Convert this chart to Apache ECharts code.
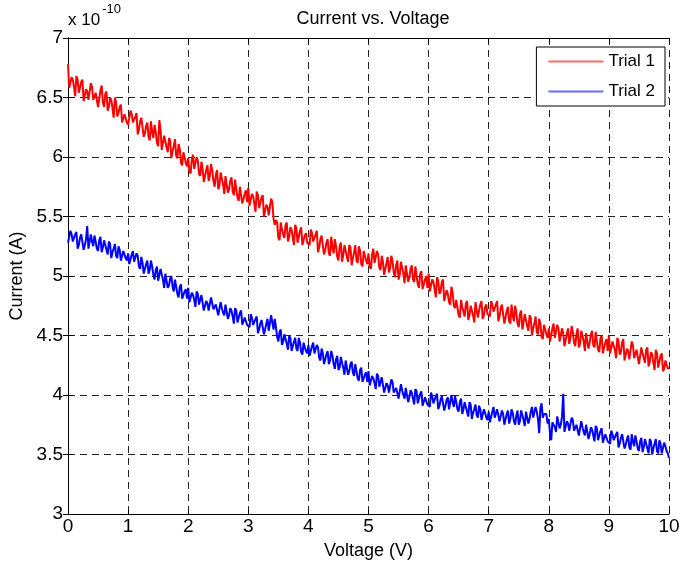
<!DOCTYPE html>
<html>
<head>
<meta charset="utf-8">
<script src="https://cdn.jsdelivr.net/npm/echarts@6/dist/echarts.min.js"></script>
<style>
  html, body { margin: 0; padding: 0; background: #fff; }
  #chart { width: 680px; height: 565px; }
</style>
</head>
<body>
<div id="chart"></div>
<script>
// voltage sampling step (V) for both trials
const VOLT_STEP = 0.02

// current x 1e-10 A, one row per volt
const trial1 = [
  6.78, 6.58, 6.58, 6.67, 6.65, 6.59, 6.51, 6.68, 6.65, 6.54, 6.55, 6.63, 6.65, 6.47, 6.48, 6.57, 6.55, 6.48, 6.47, 6.62, 6.59, 6.48, 6.47, 6.54, 6.55, 6.42, 6.41, 6.56, 6.60, 6.46, 6.42, 6.53, 6.55, 6.39, 6.42, 6.50, 6.48, 6.41, 6.33, 6.50, 6.46, 6.34, 6.37, 6.42, 6.44, 6.29, 6.29, 6.36, 6.37, 6.29,
  6.27, 6.26, 6.39, 6.36, 6.29, 6.28, 6.34, 6.37, 6.19, 6.23, 6.30, 6.33, 6.34, 6.17, 6.20, 6.26, 6.29, 6.17, 6.14, 6.30, 6.21, 6.16, 6.27, 6.21, 6.12, 6.09, 6.31, 6.23, 6.06, 6.12, 6.18, 6.18, 6.08, 6.04, 6.16, 6.14, 5.99, 6.05, 6.09, 6.15, 6.01, 5.99, 6.11, 6.07, 5.95, 5.93, 6.04, 6.00, 5.95, 5.92,
  5.99, 5.88, 5.86, 5.98, 6.02, 5.90, 5.89, 6.00, 5.97, 5.86, 5.84, 5.96, 5.90, 5.79, 5.78, 5.89, 5.93, 5.80, 5.84, 5.94, 5.89, 5.80, 5.75, 5.85, 5.89, 5.73, 5.76, 5.87, 5.82, 5.77, 5.69, 5.84, 5.83, 5.70, 5.73, 5.80, 5.83, 5.71, 5.68, 5.81, 5.73, 5.66, 5.63, 5.75, 5.76, 5.61, 5.65, 5.69, 5.72, 5.62,
  5.74, 5.59, 5.60, 5.69, 5.67, 5.61, 5.54, 5.71, 5.68, 5.57, 5.58, 5.66, 5.68, 5.50, 5.51, 5.60, 5.58, 5.51, 5.50, 5.65, 5.62, 5.48, 5.43, 5.47, 5.45, 5.32, 5.30, 5.45, 5.39, 5.35, 5.32, 5.43, 5.45, 5.29, 5.33, 5.41, 5.39, 5.32, 5.26, 5.43, 5.40, 5.28, 5.33, 5.38, 5.41, 5.26, 5.27, 5.34, 5.36, 5.28,
  5.27, 5.26, 5.39, 5.36, 5.29, 5.28, 5.35, 5.38, 5.20, 5.24, 5.31, 5.34, 5.35, 5.18, 5.22, 5.28, 5.31, 5.19, 5.17, 5.33, 5.24, 5.19, 5.31, 5.25, 5.16, 5.13, 5.25, 5.28, 5.12, 5.18, 5.26, 5.26, 5.16, 5.12, 5.26, 5.24, 5.09, 5.15, 5.20, 5.26, 5.13, 5.11, 5.25, 5.21, 5.10, 5.08, 5.21, 5.17, 5.13, 5.10,
  5.19, 5.08, 5.06, 5.18, 5.23, 5.11, 5.10, 5.21, 5.18, 5.07, 5.05, 5.17, 5.12, 5.01, 5.00, 5.11, 5.16, 5.03, 5.07, 5.17, 5.12, 5.03, 4.99, 5.09, 5.13, 4.97, 5.01, 5.12, 5.07, 5.02, 4.94, 5.09, 5.08, 4.95, 4.99, 5.06, 5.09, 4.97, 4.95, 5.08, 5.00, 4.93, 4.90, 5.02, 5.04, 4.89, 4.93, 4.97, 5.00, 4.90,
  5.02, 4.87, 4.88, 4.97, 4.95, 4.89, 4.82, 4.99, 4.96, 4.85, 4.87, 4.95, 4.97, 4.79, 4.79, 4.88, 4.85, 4.78, 4.76, 4.91, 4.86, 4.75, 4.73, 4.80, 4.80, 4.67, 4.65, 4.80, 4.74, 4.70, 4.66, 4.77, 4.79, 4.63, 4.67, 4.75, 4.74, 4.67, 4.61, 4.78, 4.77, 4.65, 4.71, 4.76, 4.79, 4.64, 4.67, 4.74, 4.76, 4.68,
  4.67, 4.66, 4.79, 4.76, 4.70, 4.69, 4.76, 4.79, 4.62, 4.66, 4.73, 4.76, 4.77, 4.60, 4.65, 4.71, 4.74, 4.62, 4.60, 4.76, 4.67, 4.62, 4.75, 4.69, 4.60, 4.57, 4.68, 4.71, 4.55, 4.61, 4.68, 4.68, 4.58, 4.54, 4.67, 4.65, 4.50, 4.56, 4.60, 4.66, 4.53, 4.51, 4.64, 4.60, 4.49, 4.47, 4.59, 4.55, 4.51, 4.48,
  4.56, 4.45, 4.44, 4.56, 4.60, 4.48, 4.48, 4.59, 4.56, 4.45, 4.44, 4.56, 4.52, 4.41, 4.40, 4.51, 4.56, 4.43, 4.48, 4.58, 4.53, 4.44, 4.41, 4.51, 4.56, 4.40, 4.43, 4.54, 4.50, 4.45, 4.37, 4.52, 4.52, 4.39, 4.44, 4.51, 4.54, 4.42, 4.40, 4.53, 4.45, 4.38, 4.36, 4.48, 4.50, 4.35, 4.40, 4.44, 4.47, 4.37,
  4.50, 4.35, 4.36, 4.45, 4.44, 4.38, 4.31, 4.48, 4.45, 4.34, 4.36, 4.44, 4.47, 4.29, 4.30, 4.39, 4.37, 4.30, 4.30, 4.45, 4.42, 4.31, 4.31, 4.38, 4.39, 4.26, 4.25, 4.40, 4.35, 4.31, 4.27, 4.38, 4.40, 4.24, 4.28, 4.36, 4.34, 4.27, 4.21, 4.38, 4.35, 4.23, 4.28, 4.33, 4.35, 4.20, 4.22, 4.29, 4.30, 4.22, 4.23
]

const trial2 = [
  5.28, 5.27, 5.38, 5.35, 5.29, 5.29, 5.35, 5.37, 5.23, 5.26, 5.32, 5.35, 5.35, 5.22, 5.26, 5.31, 5.42, 5.23, 5.22, 5.35, 5.29, 5.25, 5.34, 5.29, 5.23, 5.21, 5.30, 5.33, 5.20, 5.24, 5.30, 5.30, 5.22, 5.18, 5.29, 5.27, 5.15, 5.20, 5.23, 5.27, 5.17, 5.15, 5.25, 5.22, 5.13, 5.12, 5.21, 5.18, 5.15, 5.13,
  5.19, 5.10, 5.09, 5.18, 5.21, 5.12, 5.11, 5.19, 5.17, 5.08, 5.06, 5.16, 5.11, 5.02, 5.01, 5.10, 5.13, 5.02, 5.05, 5.13, 5.08, 5.01, 4.97, 5.05, 5.08, 4.96, 4.97, 5.06, 5.01, 4.97, 4.90, 5.02, 5.01, 4.90, 4.92, 4.98, 5.00, 4.91, 4.87, 4.97, 4.91, 4.85, 4.82, 4.91, 4.93, 4.81, 4.84, 4.87, 4.89, 4.81,
  4.90, 4.78, 4.79, 4.86, 4.84, 4.80, 4.74, 4.87, 4.85, 4.76, 4.77, 4.84, 4.85, 4.71, 4.71, 4.79, 4.77, 4.71, 4.70, 4.82, 4.81, 4.72, 4.71, 4.76, 4.77, 4.67, 4.66, 4.78, 4.73, 4.69, 4.67, 4.76, 4.77, 4.64, 4.67, 4.73, 4.71, 4.66, 4.60, 4.73, 4.71, 4.61, 4.65, 4.69, 4.71, 4.59, 4.59, 4.65, 4.65, 4.59,
  4.58, 4.57, 4.68, 4.65, 4.59, 4.59, 4.64, 4.66, 4.52, 4.55, 4.60, 4.63, 4.64, 4.51, 4.55, 4.60, 4.64, 4.54, 4.54, 4.67, 4.61, 4.55, 4.64, 4.57, 4.49, 4.45, 4.53, 4.55, 4.42, 4.45, 4.51, 4.50, 4.43, 4.38, 4.50, 4.48, 4.37, 4.41, 4.45, 4.48, 4.39, 4.37, 4.48, 4.44, 4.36, 4.34, 4.44, 4.40, 4.37, 4.35,
  4.42, 4.33, 4.32, 4.41, 4.44, 4.35, 4.34, 4.42, 4.40, 4.31, 4.29, 4.39, 4.35, 4.26, 4.25, 4.34, 4.37, 4.26, 4.29, 4.37, 4.33, 4.26, 4.22, 4.30, 4.33, 4.21, 4.23, 4.32, 4.27, 4.23, 4.17, 4.29, 4.28, 4.17, 4.20, 4.26, 4.28, 4.19, 4.16, 4.26, 4.20, 4.14, 4.12, 4.21, 4.23, 4.11, 4.14, 4.17, 4.19, 4.11,
  4.20, 4.08, 4.09, 4.16, 4.14, 4.10, 4.05, 4.18, 4.16, 4.07, 4.08, 4.15, 4.16, 4.02, 4.02, 4.10, 4.08, 4.02, 4.01, 4.13, 4.11, 4.02, 4.01, 4.06, 4.07, 3.97, 3.97, 4.09, 4.04, 4.00, 3.97, 4.06, 4.07, 3.94, 3.98, 4.04, 4.02, 3.97, 3.92, 4.05, 4.03, 3.93, 3.97, 4.01, 4.03, 3.91, 3.92, 3.98, 3.98, 3.92,
  3.91, 3.90, 4.02, 3.99, 3.93, 3.93, 3.99, 4.01, 3.88, 3.91, 3.96, 3.99, 4.00, 3.87, 3.91, 3.96, 3.98, 3.88, 3.87, 4.00, 3.94, 3.90, 3.99, 3.94, 3.88, 3.86, 3.94, 3.97, 3.84, 3.88, 3.94, 3.94, 3.86, 3.82, 3.94, 3.92, 3.80, 3.85, 3.88, 3.92, 3.83, 3.81, 3.91, 3.88, 3.79, 3.78, 3.88, 3.85, 3.81, 3.79,
  3.86, 3.77, 3.77, 3.86, 3.90, 3.81, 3.80, 3.88, 3.87, 3.78, 3.77, 3.87, 3.84, 3.75, 3.75, 3.84, 3.87, 3.76, 3.80, 3.88, 3.85, 3.78, 3.75, 3.83, 3.87, 3.75, 3.78, 3.87, 3.83, 3.79, 3.74, 3.86, 3.87, 3.76, 3.80, 3.86, 3.90, 3.81, 3.80, 3.90, 3.86, 3.80, 3.68, 3.89, 3.93, 3.81, 3.84, 3.85, 3.84, 3.76,
  3.80, 3.68, 3.62, 3.77, 3.77, 3.73, 3.69, 3.82, 3.81, 3.72, 3.75, 3.82, 4.01, 3.69, 3.70, 3.78, 3.76, 3.70, 3.69, 3.81, 3.79, 3.70, 3.70, 3.75, 3.76, 3.66, 3.66, 3.78, 3.73, 3.69, 3.66, 3.75, 3.76, 3.63, 3.67, 3.73, 3.71, 3.66, 3.61, 3.74, 3.72, 3.62, 3.66, 3.70, 3.72, 3.60, 3.61, 3.67, 3.67, 3.61,
  3.60, 3.59, 3.70, 3.67, 3.62, 3.62, 3.67, 3.69, 3.56, 3.59, 3.64, 3.67, 3.68, 3.55, 3.58, 3.63, 3.66, 3.56, 3.54, 3.67, 3.61, 3.57, 3.66, 3.61, 3.55, 3.53, 3.61, 3.64, 3.52, 3.56, 3.63, 3.63, 3.55, 3.51, 3.63, 3.61, 3.50, 3.55, 3.59, 3.63, 3.53, 3.51, 3.62, 3.59, 3.51, 3.50, 3.60, 3.57, 3.53, 3.51, 3.47
]

const seriesNames = ['Trial 1', 'Trial 2']
const seriesColors = ['#ff0000', '#0000ff']
const legendColors = ['#ff6a6a', '#6a6aff']

const font = 'Liberation Sans, Arial, sans-serif'

function toPairs(arr) {
  return arr.map((v, i) => [+(i * VOLT_STEP).toFixed(2), v])
}

const chart = echarts.init(document.getElementById('chart'))

const axisBase = {
  axisLine: { show: true, lineStyle: { color: '#000', width: 1 } },
  axisTick: { show: true, inside: true, length: 5, lineStyle: { color: '#000' } }
}

const option = {
  animation: false,
  backgroundColor: '#fff',
  title: {
    text: 'Current vs. Voltage',
    left: 368,
    top: 5,
    textAlign: 'center',
    textStyle: { fontFamily: font, fontSize: 18, fontWeight: 'normal', color: '#000' }
  },
  legend: {
    data: seriesNames.map((n, i) => ({ name: n, icon: 'rect', itemStyle: { color: legendColors[i] } })),
    orient: 'vertical',
    right: 15,
    top: 47,
    itemWidth: 55,
    itemHeight: 2,
    itemGap: 13,
    padding: [6, 10, 6, 12],
    borderColor: '#000',
    borderWidth: 1,
    backgroundColor: '#fff',
    textStyle: { fontFamily: font, fontSize: 17, color: '#000' }
  },
  grid: { left: 68, right: 11, top: 38, bottom: 51, outerBoundsMode: 'none' },
  xAxis: [
    {
      ...axisBase,
      type: 'value',
      min: 0,
      max: 10,
      interval: 1,
      name: 'Voltage (V)',
      nameLocation: 'middle',
      nameGap: 28,
      nameTextStyle: { fontFamily: font, fontSize: 18, color: '#000' },
      axisLabel: { fontFamily: font, fontSize: 19, color: '#000', margin: 3 },
      splitLine: { show: true, lineStyle: { color: '#222', width: 1, type: [7, 5] } }
    },
    {
      ...axisBase,
      type: 'value',
      position: 'top',
      min: 0,
      max: 10,
      interval: 1,
      axisLabel: { show: false },
      splitLine: { show: false }
    }
  ],
  yAxis: [
    {
      ...axisBase,
      type: 'value',
      min: 3,
      max: 7,
      interval: 0.5,
      name: 'Current (A)',
      nameLocation: 'middle',
      nameGap: 41,
      nameTextStyle: { fontFamily: font, fontSize: 18, color: '#000' },
      axisLabel: { fontFamily: font, fontSize: 19, color: '#000', margin: 5 },
      splitLine: { show: true, lineStyle: { color: '#222', width: 1, type: [7, 5] } }
    },
    {
      ...axisBase,
      type: 'value',
      position: 'right',
      min: 3,
      max: 7,
      interval: 0.5,
      axisLabel: { show: false },
      splitLine: { show: false }
    }
  ],
  graphic: [
    {
      type: 'text',
      left: 68,
      top: 3,
      style: {
        text: '{b|x 10}{s|-10}',
        rich: {
          b: { fontFamily: font, fontSize: 17, color: '#000', padding: [14, 0, 0, 0] },
          s: { fontFamily: font, fontSize: 13, color: '#000', padding: [0, 0, 8, 2] }
        }
      }
    }
  ],
  series: [trial1, trial2].map((arr, i) => ({
    name: seriesNames[i],
    type: 'line',
    data: toPairs(arr),
    symbol: 'none',
    color: seriesColors[i],
    lineStyle: { color: seriesColors[i], width: 2 },
    z: 3
  }))
}

chart.setOption(option)
</script>
</body>
</html>
